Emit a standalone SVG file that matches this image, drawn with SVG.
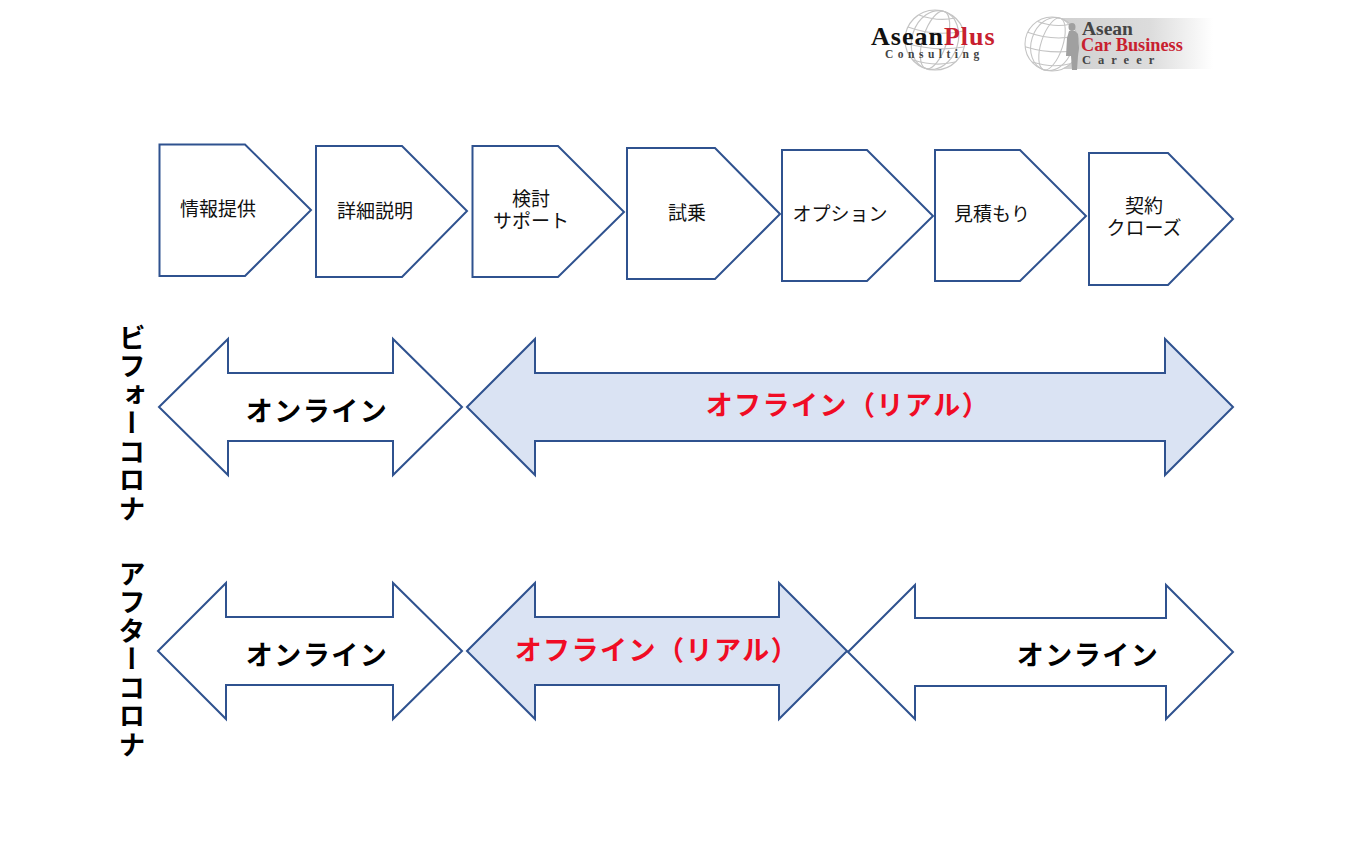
<svg xmlns="http://www.w3.org/2000/svg" width="1350" height="844" viewBox="0 0 1350 844">
<style>
.s{fill:#fff;stroke:#2f528f;stroke-width:2}
.b{fill:#dae3f3;stroke:#2f528f;stroke-width:2}
.t{font-family:"Noto Sans CJK JP",sans-serif;font-size:19px;fill:#111;text-anchor:middle}
.o{font-family:"Noto Sans CJK JP",sans-serif;font-size:27px;font-weight:700;fill:#000;text-anchor:middle;letter-spacing:1.500px}
.r{fill:#f00c24}
.v{font-family:"Noto Sans CJK JP",sans-serif;font-size:27px;font-weight:700;fill:#000;writing-mode:vertical-rl;text-orientation:upright;letter-spacing:1.500px}
.g{fill:none;stroke:#c4c4c4;stroke-width:1.200}
.l{font-family:"Liberation Serif",serif;font-weight:700}
</style>
<defs>
<linearGradient id="fade" x1="0" x2="1" y1="0" y2="0"><stop offset="0" stop-color="#d0d0d0"/><stop offset=".6" stop-color="#dcdcdc"/><stop offset="1" stop-color="#fff"/></linearGradient>
<g id="globe"><circle r="30" class="g"/><ellipse rx="12" ry="30" class="g" transform="rotate(18)"/><ellipse rx="23" ry="30" class="g" transform="rotate(18)"/><path class="g" d="M-27-13Q0-3 29-9M-30 3Q0 12 29 7M-22 20Q0 27 20 22M-16-25Q3-18 20-22"/></g>
</defs>
<g id="logo-aseanplus">
<use href="#globe" x="935" y="40"/>
<text class="l" x="871" y="45" font-size="26" letter-spacing="1" fill="#111">Asean<tspan fill="#c8202f">Plus</tspan></text>
<text class="l" x="885" y="58" font-size="11.500" fill="#444" letter-spacing="4.500">Consulting</text>
</g>
<g id="logo-career">
<rect x="1055" y="18" width="158" height="51" fill="url(#fade)"/>
<circle cx="1052" cy="44" r="27" fill="#fff"/>
<use href="#globe" transform="translate(1052 44) scale(.9)"/>
<ellipse cx="1072" cy="27" rx="3.500" ry="4" fill="#a0a0a0"/>
<path d="M1069 31h6l3 3 1 14-1 8-1 14h-5l-1-14h-5l1-18z" fill="#a0a0a0"/>
<text class="l" x="1082" y="35" font-size="19.500" fill="#444">Asean</text>
<text class="l" x="1081" y="51" font-size="18.300" fill="#c8202f">Car Business</text>
<text class="l" x="1082" y="64" font-size="12.500" fill="#444" letter-spacing="7">Career</text>
</g>
<g id="step-1"><path class="s" d="M159.500 144.500H245L311 210 245 276H159.500Z"/><text class="t" x="218" y="216">情報提供</text></g>
<g id="step-2"><path class="s" d="M316 146H402L467 211 402 277H316Z"/><text class="t" x="375" y="218">詳細説明</text></g>
<g id="step-3"><path class="s" d="M472.500 146H558L624 212 558 277H472.500Z"/><text class="t" x="531" y="206">検討</text><text class="t" x="531" y="228">サポート</text></g>
<g id="step-4"><path class="s" d="M627 148H715L780 214 715 279H627Z"/><text class="t" x="687" y="220">試乗</text></g>
<g id="step-5"><path class="s" d="M782 150H867L933 216 867 281H782Z"/><text class="t" x="840" y="221">オプション</text></g>
<g id="step-6"><path class="s" d="M935 150H1020L1086 216 1020 281H935Z"/><text class="t" x="992" y="221">見積もり</text></g>
<g id="step-7"><path class="s" d="M1089 153H1168L1233 219 1168 285H1089Z"/><text class="t" x="1144" y="213">契約</text><text class="t" x="1144" y="235">クローズ</text></g>
<text class="v" x="132" y="324">ビフォーコロナ</text>
<text class="v" x="132" y="560">アフターコロナ</text>
<g id="before-online"><path class="s" d="M159 407 228 339V373H393V339L462 407 393 475V441H228V475Z"/><text class="o" x="317" y="421">オンライン</text></g>
<g id="before-offline"><path class="b" d="M467 407 535 339V373H1165V339L1233 407 1165 475V441H535V475Z"/><text class="o r" x="848" y="415">オフライン（リアル）</text></g>
<g id="after-online-1"><path class="s" d="M158 651 226 583V617H393V583L462 651 393 719V685H226V719Z"/><text class="o" x="317" y="665">オンライン</text></g>
<g id="after-offline"><path class="b" d="M467 651 535 583V617H779V583L847 651 779 719V685H535V719Z"/><text class="o r" x="657" y="660">オフライン（リアル）</text></g>
<g id="after-online-2"><path class="s" d="M848 652 915 585V618H1166V585L1233 652 1166 719V686H915V719Z"/><text class="o" x="1088" y="665">オンライン</text></g>
</svg>
